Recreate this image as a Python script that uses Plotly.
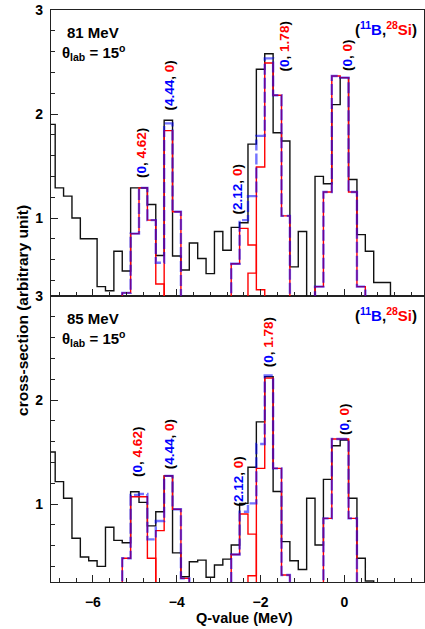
import plotly.graph_objects as go

# ---------------- data ----------------
q_bins = [-7.0, -6.8, -6.6, -6.4, -6.2, -6.0, -5.8, -5.6, -5.4, -5.2, -5.0,
          -4.8, -4.6, -4.4, -4.2, -4.0, -3.8, -3.6, -3.4, -3.2, -3.0, -2.8,
          -2.6, -2.4, -2.2, -2.0, -1.8, -1.6, -1.4, -1.2, -1.0, -0.8, -0.6,
          -0.4, -0.2, 0.0, 0.2, 0.4, 0.6, 0.8, 1.0, 1.2]

# 81 MeV : experiment (black) and total fit (blue)
black_81 = [1.90, 1.29, 1.21, 1.00, 0.80, 0.80, 0.34, 0.30, 0.68, 0.49, 1.29,
            1.29, 1.13, 0.64, 1.94, 0.635, 0.50, 0.76, 0.61, 0.465, 0.87, 0.69,
            0.91, 0.955, 1.71, 2.43, 2.58, 1.82, 1.74, 0.53, 0.87, 0.0, 1.40,
            1.33, 2.09, 2.35, 1.37, 0.84, 0.68, 0.38, 0.38, 0.0]
blue_81 = [0, 0, 0, 0, 0, 0, 0, 0, 0, 0.28, 0.85,
           1.29, 0.98, 0.57, 1.91, 1.06, 0, 0, 0, 0, 0, 0,
           0.56, 0.98, 1.21, 1.79, 2.535, 2.18, 1.02, 0, 0, 0, 0.34,
           1.25, 2.365, 2.35, 1.25, 0.34, 0, 0, 0, 0]
# 81 MeV : individual components (red)
q_81_4p62 = [-5.4, -5.2, -5.0, -4.8, -4.6, -4.4, -4.2]
red_81_4p62 = [0, 0.28, 0.85, 1.29, 0.98, 0.365, 0]
q_81_4p44 = [-4.4, -4.2, -4.0, -3.8]
red_81_4p44 = [0, 1.84, 1.06, 0]
q_81_2p12 = [-2.8, -2.6, -2.4, -2.2, -2.0, -1.8]
red_81_2p12 = [0, 0.56, 0.90, 0.74, 0.31, 0]
q_81_1p78 = [-2.4, -2.2, -2.0, -1.8, -1.6, -1.4, -1.2]
red_81_1p78 = [0, 0.47, 1.49, 2.49, 2.18, 1.02, 0]
q_81_gs = [-0.8, -0.6, -0.4, -0.2, 0.0, 0.2, 0.4, 0.6]
red_81_gs = [0, 0.34, 1.25, 2.365, 2.35, 1.25, 0.34, 0]

# 85 MeV : experiment (black) and total fit (blue)
black_85 = [1.50, 1.215, 1.055, 0.67, 0.49, 0.455, 0.40, 0.776, 0.65, 0.628, 1.118,
            1.016, 0.79, 0.926, 1.27, 0.53, 0.30, 0.445, 0.46, 0.295, 0.413, 0.47,
            0.606, 1.006, 1.353, 1.79, 2.224, 1.12, 0.638, 0.455, 0.37, 1.055, 0.606,
            1.237, 1.56, 1.615, 1.055, 0.478, 0.26, 0.0, 0.0, 0.0]
blue_85 = [0, 0, 0, 0, 0, 0, 0, 0, 0, 0.478, 1.087,
           1.096, 0.66, 0.837, 1.27, 0.95, 0.285, 0, 0, 0, 0, 0,
           0.515, 0.926, 1.006, 1.577, 2.235, 1.343, 0.317, 0, 0, 0, 0,
           0.862, 1.625, 1.625, 0.862, 0, 0, 0, 0, 0]
# 85 MeV : individual components (red)
q_85_4p62 = [-5.4, -5.2, -5.0, -4.8, -4.6, -4.4]
red_85_4p62 = [0, 0.478, 1.07, 1.07, 0.478, 0]
q_85_4p44 = [-4.6, -4.4, -4.2, -4.0, -3.8, -3.6]
red_85_4p44 = [0, 0.744, 1.27, 0.95, 0.285, 0]
q_85_2p12 = [-2.8, -2.6, -2.4, -2.2, -2.0]
red_85_2p12 = [0, 0.515, 0.904, 0.71, 0]
q_85_1p78 = [-2.4, -2.2, -2.0, -1.8, -1.6, -1.4, -1.2]
red_85_1p78 = [0, 0.31, 1.343, 2.21, 1.343, 0.317, 0]
q_85_gs = [-0.6, -0.4, -0.2, 0.0, 0.2, 0.4]
red_85_gs = [0, 0.862, 1.625, 1.625, 0.862, 0]

energies = ["81 MeV", "85 MeV"]
x_ticks = [-6, -4, -2, 0]
y_ticks = [1, 2, 3]

# peak labels: (11B excitation, 28Si excitation, x, y) per panel
labels_81 = [("0", "4.62", -4.84, 1.62), ("4.44", "0", -4.17, 2.27),
             ("2.12", "0", -2.55, 1.27), ("0", "1.78", -1.44, 2.65),
             ("0", "0", 0.07, 2.57)]
labels_85 = [("0", "4.62", -4.95, 1.50), ("4.44", "0", -4.17, 1.57),
             ("2.12", "0", -2.53, 1.22), ("0", "1.78", -1.81, 2.55),
             ("0", "0", 0.02, 1.82)]

# ---------------- figure ----------------
FONT = "Liberation Sans"
fig = go.Figure()


def add_panel(xa, ya, black, blue, reds):
    fig.add_trace(go.Scatter(x=q_bins, y=black, mode="lines", line_shape="hvh",
                             line=dict(color="#111111", width=1.4),
                             xaxis=xa, yaxis=ya, showlegend=False, hoverinfo="skip"))
    for q, v in reds:
        fig.add_trace(go.Scatter(x=q, y=v, mode="lines", line_shape="hvh",
                                 line=dict(color="red", width=1.4),
                                 xaxis=xa, yaxis=ya, showlegend=False, hoverinfo="skip"))
    fig.add_trace(go.Scatter(x=q_bins, y=blue, mode="lines", line_shape="hvh",
                             line=dict(color="rgba(0,0,255,0.55)", width=2.4, dash="11px,3px"),
                             xaxis=xa, yaxis=ya, showlegend=False, hoverinfo="skip"))


add_panel("x2", "y2", black_81, blue_81,
          [(q_81_4p62, red_81_4p62), (q_81_4p44, red_81_4p44), (q_81_2p12, red_81_2p12),
           (q_81_1p78, red_81_1p78), (q_81_gs, red_81_gs)])
add_panel("x", "y", black_85, blue_85,
          [(q_85_4p62, red_85_4p62), (q_85_4p44, red_85_4p44), (q_85_2p12, red_85_2p12),
           (q_85_1p78, red_85_1p78), (q_85_gs, red_85_gs)])

axis_common = dict(showgrid=False, zeroline=False, showline=True, linecolor="#222",
                   linewidth=1.3, mirror=True, ticks="inside", tickcolor="#222",
                   automargin=False)
xa = dict(axis_common, range=[-7, 1.9], tickvals=x_ticks, ticklen=7, tickwidth=1.2,
          minor=dict(tick0=0, dtick=0.4, ticks="inside", ticklen=4, tickcolor="#222"))
ya = dict(axis_common, range=[0.25, 3], tickvals=y_ticks, ticklen=7, tickwidth=1.2,
          minor=dict(tick0=0, dtick=0.2, ticks="inside", ticklen=4, tickcolor="#222"))

fig.update_layout(
    width=425, height=629,
    margin=dict(l=51, r=1, t=10, b=47, autoexpand=False),
    paper_bgcolor="white", plot_bgcolor="white",
    xaxis=dict(xa, anchor="y", domain=[0, 1],
               tickfont=dict(family=FONT, size=14, color="black", weight="bold"),
               ticklabelstandoff=7),
    xaxis2=dict(xa, anchor="y2", domain=[0, 1], matches="x", showticklabels=False),
    yaxis=dict(ya, anchor="x", domain=[0, 0.5],
               tickfont=dict(family=FONT, size=14, color="black", weight="bold"),
               ticklabelstandoff=4),
    yaxis2=dict(ya, anchor="x2", domain=[0.5, 1],
                tickfont=dict(family=FONT, size=14, color="black", weight="bold"),
                ticklabelstandoff=4),
)

ann = []
bold = dict(family=FONT, color="black", weight="bold")


def peak_text(b, s):
    return ("(<span style='color:blue'>%s</span>, <span style='color:red'>%s</span>)" % (b, s))


for labs, yref in ((labels_81, "y2"), (labels_85, "y")):
    for b, s, x, y in labs:
        ann.append(dict(x=x, y=y, xref="x", yref=yref, text=peak_text(b, s), textangle=-90,
                        showarrow=False, font=dict(bold, size=13.5)))

reaction = ("(<span style='color:blue'><sup>11</sup>B</span>,"
            "<span style='color:red'><sup>28</sup>Si</span>)")
theta = "θ<sub>lab</sub> = 15<sup>o</sup>"
for e, ytop in ((energies[0], 1.0), (energies[1], 0.5)):
    ann.append(dict(x=0.0375, y=ytop - 0.0385, xref="paper", yref="paper", text=e,
                    xanchor="left", yanchor="middle", showarrow=False, font=dict(bold, size=15)))
    ann.append(dict(x=0.024, y=ytop - 0.075, xref="paper", yref="paper", text=theta,
                    xanchor="left", yanchor="middle", showarrow=False, font=dict(bold, size=15)))
    ann.append(dict(x=0.897, y=ytop - 0.033, xref="paper", yref="paper", text=reaction,
                    xanchor="center", yanchor="middle", showarrow=False, font=dict(bold, size=15)))

ann.append(dict(x=0.52, y=-0.063, xref="paper", yref="paper", text="Q-value (MeV)",
                xanchor="center", yanchor="middle", showarrow=False, font=dict(bold, size=14.5)))
ann.append(dict(x=-0.075, y=0.474, xref="paper", yref="paper", text="cross-section (arbitrary unit)",
                textangle=-90, xanchor="center", yanchor="middle", showarrow=False,
                font=dict(bold, size=15.5)))
fig.update_layout(annotations=ann)

# remove the browser's default 8px page margin so the figure sits at (0, 0)
fig.write_html("out.html", config={"displayModeBar": False},
               post_script="document.body.style.margin='0px';document.body.style.overflow='hidden';")
